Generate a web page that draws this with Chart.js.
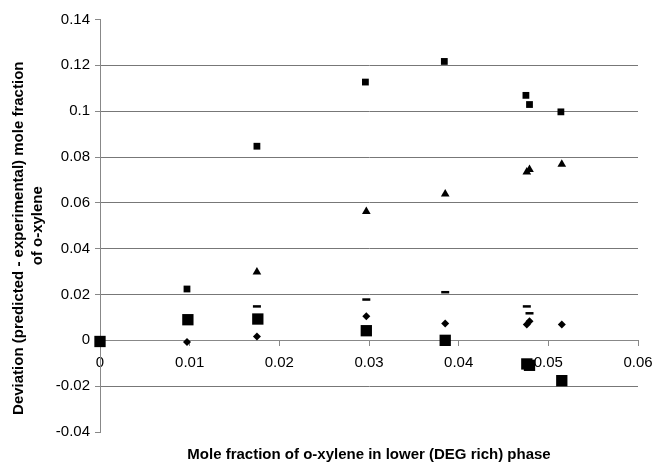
<!DOCTYPE html>
<html>
<head>
<meta charset="utf-8">
<script src="https://cdn.jsdelivr.net/npm/chart.js@4"></script>
<style>
  html, body { margin: 0; padding: 0; background: #fff; }
  #wrap { width: 654px; height: 465px; }
</style>
</head>
<body>
<div id="wrap"><canvas id="chart"></canvas></div>
<script>
/* global Chart */

// tick values and labels
const xTicks = [0, 0.01, 0.02, 0.03, 0.04, 0.05, 0.06];
const xTickLabels = ['0', '0.01', '0.02', '0.03', '0.04', '0.05', '0.06'];
const yTicks = [-0.04, -0.02, 0, 0.02, 0.04, 0.06, 0.08, 0.1, 0.12, 0.14];
const yTickLabels = ['-0.04', '-0.02', '0', '0.02', '0.04', '0.06', '0.08', '0.1', '0.12', '0.14'];

// small squares
const sqX = [0.0097, 0.0175, 0.0296, 0.0384, 0.0475, 0.0479, 0.0514];
const sqY = [0.0224, 0.0847, 0.1127, 0.1217, 0.1069, 0.1029, 0.0997];
// triangles
const triX = [0.0175, 0.0297, 0.0385, 0.0476, 0.0479, 0.0515];
const triY = [0.0298, 0.0562, 0.0639, 0.0735, 0.0745, 0.0768];
// dashes
const dashX = [0.0175, 0.0297, 0.0385, 0.0476, 0.0479];
const dashY = [0.0148, 0.0178, 0.021, 0.0148, 0.0118];
// diamonds
const diaX = [0.0097, 0.0175, 0.0297, 0.0385, 0.0476, 0.0479, 0.0515];
const diaY = [-0.0007, 0.0017, 0.0105, 0.0074, 0.0069, 0.0083, 0.0069];
// big squares
const bigX = [0, 0.0098, 0.0176, 0.0297, 0.0385, 0.0476, 0.0479, 0.0515];
const bigY = [-0.0005, 0.009, 0.0093, 0.0042, 0.0, -0.0103, -0.0109, -0.0176];

function pts(xs, ys) {
  return xs.map(function (x, i) { return { x: x, y: ys[i] }; });
}

function series(xs, ys, style, r, bw) {
  return {
    data: pts(xs, ys),
    pointStyle: style,
    pointRadius: r,
    pointBackgroundColor: '#000',
    pointBorderColor: '#000',
    pointBorderWidth: bw,
    showLine: false,
    clip: false
  };
}

// no extra room for half-labels, layout padding decides
function noPad(scale) {
  scale.paddingLeft = 0;
  scale.paddingRight = 0;
  scale.paddingTop = 0;
  scale.paddingBottom = 0;
}

const tickFont = { family: 'Arial, "Liberation Sans"', size: 15 };
const titleFont = { family: 'Arial, "Liberation Sans"', size: 15, weight: 'bold', lineHeight: 1.27 };

new Chart(document.getElementById('chart'), {
  type: 'scatter',
  data: {
    datasets: [
      series(sqX, sqY, 'rect', 4.8, 0),
      series(triX, triY, 'triangle', 5, 0),
      series(dashX, dashY, 'line', 4, 2.5),
      series(diaX, diaY, 'rectRot', 4, 0),
      series(bigX, bigY, 'rect', 8, 0)
    ]
  },
  options: {
    responsive: true,
    maintainAspectRatio: false,
    animation: false,
    layout: { padding: { top: 19.5, right: 16 } },
    plugins: { legend: { display: false }, tooltip: { enabled: false } },
    scales: {
      x: {
        type: 'linear',
        position: { y: 0 },
        min: 0,
        max: 0.06,
        afterFit: noPad,
        afterBuildTicks: function (scale) {
          scale.ticks = xTicks.map(function (v) { return { value: v }; });
        },
        ticks: {
          font: tickFont,
          color: '#000',
          padding: 9,
          maxRotation: 0,
          callback: function (v, i) { return xTickLabels[i]; }
        },
        grid: { drawOnChartArea: false, tickLength: 5, color: '#888' },
        border: { color: '#888', width: 1 }
      },
      xt: {
        type: 'linear',
        position: 'bottom',
        min: 0,
        max: 0.06,
        afterFit: function (scale) { noPad(scale); scale.height = 33; },
        ticks: { display: false },
        grid: { display: false },
        border: { display: false },
        title: {
          display: true,
          text: 'Mole fraction of o-xylene in lower (DEG rich) phase',
          font: titleFont,
          color: '#000',
          padding: { top: 4, bottom: 1 }
        }
      },
      y: {
        type: 'linear',
        position: 'left',
        min: -0.04,
        max: 0.14,
        afterFit: function (scale) { noPad(scale); scale.width = 100; },
        afterBuildTicks: function (scale) {
          scale.ticks = yTicks.map(function (v) { return { value: v }; });
        },
        ticks: {
          font: tickFont,
          color: '#000',
          padding: 5,
          callback: function (v, i) { return yTickLabels[i]; }
        },
        grid: {
          tickLength: 5,
          tickColor: '#888',
          color: function (ctx) {
            const v = ctx.tick ? ctx.tick.value : null;
            if (v === 0.14 || v === -0.04) return 'rgba(0,0,0,0)';
            return '#777';
          }
        },
        border: { color: '#888', width: 1 },
        title: {
          display: true,
          // trailing spaces push the first line down a little, as in the original
          text: ['Deviation (predicted - experimental) mole fraction      ', 'of o-xylene'],
          font: titleFont,
          color: '#000',
          padding: { top: 9, bottom: 4 }
        }
      }
    }
  }
});
</script>
</body>
</html>
